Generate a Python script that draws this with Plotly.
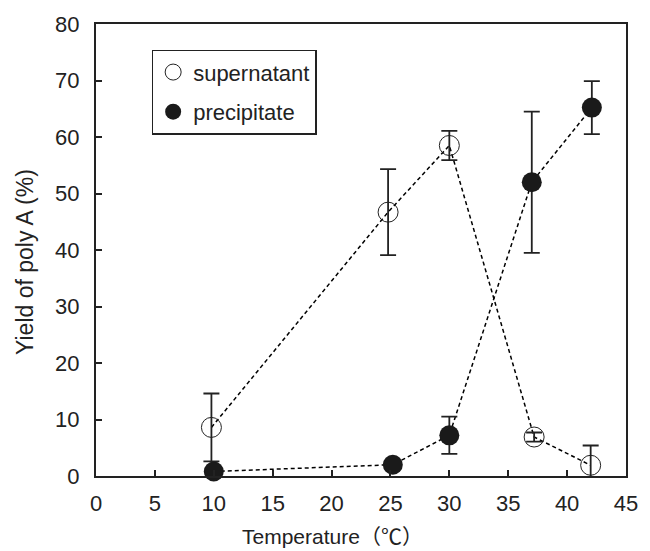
import plotly.graph_objects as go

temp_sup = [9.8, 24.8, 30.0, 37.2, 42.0]
yield_sup = [8.6, 46.7, 58.5, 6.9, 1.9]
err_sup = [6.0, 7.6, 2.6, 0.8, 3.5]

temp_pre = [10.0, 25.2, 30.0, 37.0, 42.1]
yield_pre = [0.8, 2.0, 7.2, 52.0, 65.2]
err_pre = [0.0, 0.0, 3.3, 12.5, 4.7]

x_ticks = [0, 5, 10, 15, 20, 25, 30, 35, 40, 45]
y_ticks = [0, 10, 20, 30, 40, 50, 60, 70, 80]

FONT = "Liberation Sans, Arial, Noto Sans CJK JP, sans-serif"

fig = go.Figure()
for xs, ys in [(temp_sup, yield_sup), (temp_pre, yield_pre)]:
    fig.add_trace(go.Scatter(x=xs, y=ys, mode="lines", showlegend=False,
                             line=dict(color="black", width=1.5, dash="4px,3px"),
                             hoverinfo="skip"))

fig.add_trace(go.Scatter(
    x=temp_sup, y=yield_sup, mode="markers", name="supernatant", legendgroup="a",
    marker=dict(symbol="circle-open", size=20, color="#222", line=dict(width=1)),
    error_y=dict(type="data", array=err_sup, visible=True, color="#222", thickness=1.8, width=8),
    cliponaxis=False))
fig.add_trace(go.Scatter(
    x=temp_pre, y=yield_pre, mode="markers", name="precipitate", legendgroup="b",
    marker=dict(symbol="circle", size=20, color="#1a1a1a"),
    error_y=dict(type="data", array=err_pre, visible=True, color="#222", thickness=1.8, width=8),
    cliponaxis=False))

axis_common = dict(showline=True, linecolor="#222", linewidth=2, mirror=True,
                   ticks="inside", ticklen=6, tickwidth=1.5, tickcolor="#222",
                   showgrid=False, zeroline=False,
                   tickfont=dict(family=FONT, size=22, color="#222"))

fig.update_xaxes(range=[0, 45], tickvals=x_ticks, ticklabelstandoff=7, **axis_common)
fig.update_yaxes(range=[0, 80], tickvals=y_ticks, ticklabelstandoff=10, **axis_common)

fig.update_layout(
    width=650, height=551,
    margin=dict(l=96, r=12, t=21, b=75),
    plot_bgcolor="white", paper_bgcolor="white",
    font=dict(family=FONT, size=20, color="#222"),
    legend=dict(x=0.105, y=0.943, xanchor="left", yanchor="top",
                bordercolor="#222", borderwidth=1.5, bgcolor="white",
                font=dict(family=FONT, size=22, color="#222"),
                traceorder="grouped", tracegroupgap=8),
    annotations=[
        dict(text="Temperature\uff08\u2103\uff09", xref="paper", yref="paper",
             x=(338 - 96) / 542, y=(476 - 537) / 455, xanchor="center", yanchor="middle",
             showarrow=False, font=dict(family=FONT, size=21, color="#222")),
        dict(text="Yield of poly A (%)", xref="paper", yref="paper",
             x=(24 - 96) / 542, y=(476 - 261) / 455, xanchor="center", yanchor="middle",
             textangle=-90, showarrow=False, font=dict(family=FONT, size=23, color="#222")),
    ],
)

fig.write_html("out.html")
